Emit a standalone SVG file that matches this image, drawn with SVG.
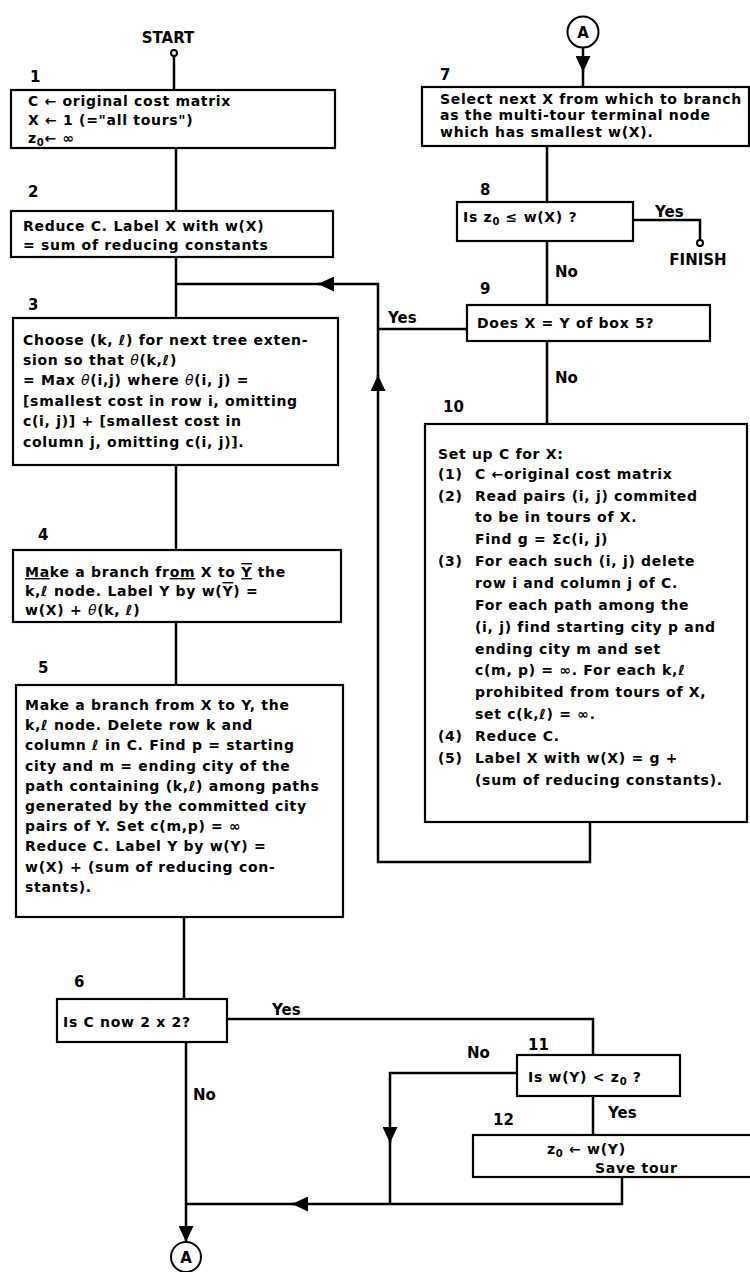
<svg xmlns="http://www.w3.org/2000/svg" width="750" height="1272" viewBox="0 0 750 1272">
<style>
.bg{fill:#fff}
.box{fill:#fff;stroke:#000;stroke-width:2.2}
.ln{fill:none;stroke:#000;stroke-width:2.5}
.dot{fill:#fff;stroke:#000;stroke-width:2}
.t{font-family:"DejaVu Sans","Liberation Sans",sans-serif;font-size:14px;font-weight:bold;letter-spacing:0.7px;fill:#000}
.n{font-family:"DejaVu Sans","Liberation Sans",sans-serif;font-size:15px;font-weight:bold;fill:#000}
.sub{font-size:10px}
.u{text-decoration:underline}
.o{text-decoration:overline}
.ou{text-decoration:underline overline}
.th{font-style:italic;font-weight:normal}
</style>
<defs>
<marker id="ah" viewBox="0 0 16 15" refX="16" refY="7.5" markerWidth="16" markerHeight="15" markerUnits="userSpaceOnUse" orient="auto">
<path d="M0,0 L16,7.5 L0,15 z" fill="#000"/>
</marker>
</defs>
<rect class="bg" x="0" y="0" width="750" height="1272"/>

<g id="connectors">
<line class="ln" x1="174" y1="56" x2="174" y2="90"/>
<line class="ln" x1="176" y1="148" x2="176" y2="211"/>
<line class="ln" x1="176" y1="257" x2="176" y2="318"/>
<line class="ln" x1="176" y1="465" x2="176" y2="550"/>
<line class="ln" x1="176" y1="622" x2="176" y2="685"/>
<line class="ln" x1="184" y1="917" x2="184" y2="999"/>
<path class="ln" d="M186,1042 L186,1242" marker-end="url(#ah)"/>
<path class="ln" d="M227,1019 L593,1019 L593,1055"/>
<path class="ln" d="M517,1073 L390,1073 L390,1143" marker-end="url(#ah)"/>
<line class="ln" x1="390" y1="1140" x2="390" y2="1204"/>
<path class="ln" d="M622,1177 L622,1204 L292,1204" marker-end="url(#ah)"/>
<line class="ln" x1="295" y1="1204" x2="186" y2="1204"/>
<line class="ln" x1="593" y1="1096" x2="593" y2="1135"/>
<path class="ln" d="M590,822 L590,862 L378,862 L378,375" marker-end="url(#ah)"/>
<path class="ln" d="M378,378 L378,284 L318,284" marker-end="url(#ah)"/>
<line class="ln" x1="321" y1="284" x2="176" y2="284"/>
<line class="ln" x1="467" y1="329" x2="378" y2="329"/>
<path class="ln" d="M583,47 L583,72" marker-end="url(#ah)"/>
<line class="ln" x1="583" y1="70" x2="583" y2="87"/>
<line class="ln" x1="547" y1="146" x2="547" y2="202"/>
<line class="ln" x1="547" y1="241" x2="547" y2="305"/>
<line class="ln" x1="547" y1="341" x2="547" y2="424"/>
<path class="ln" d="M633,220 L700,220 L700,240"/>
<text class="n" x="655" y="217">Yes</text>
<text class="n" x="555" y="277">No</text>
<text class="n" x="388" y="323">Yes</text>
<text class="n" x="555" y="383">No</text>
<text class="n" x="272" y="1015">Yes</text>
<text class="n" x="193" y="1100">No</text>
<text class="n" x="467" y="1058">No</text>
<text class="n" x="608" y="1118">Yes</text>
</g>

<g id="start">
<text class="n" x="168" y="43" text-anchor="middle">START</text>
<circle class="dot" cx="174" cy="53" r="3"/>
</g>

<g id="finish">
<circle class="dot" cx="700" cy="243" r="3"/>
<text class="n" x="698" y="265" text-anchor="middle">FINISH</text>
</g>

<g id="connector-a-top">
<circle class="dot" cx="583" cy="32" r="15.5"/>
<text class="n" x="583" y="37.5" text-anchor="middle">A</text>
</g>

<g id="connector-a-bottom">
<circle class="dot" cx="186" cy="1257" r="15"/>
<text class="n" x="186" y="1262.5" text-anchor="middle">A</text>
</g>

<g id="box1">
<text class="n" x="30" y="82">1</text>
<rect class="box" x="11" y="90" width="324" height="58"/>
<text class="t" x="28" y="106">C ← original cost matrix</text>
<text class="t" x="28" y="125">X ← 1 (="all tours")</text>
<text class="t" x="28" y="143">z<tspan class="sub" dy="3">0</tspan><tspan dy="-3">← ∞</tspan></text>
</g>

<g id="box2">
<text class="n" x="28" y="197">2</text>
<rect class="box" x="11" y="211" width="322" height="46"/>
<text class="t" x="23" y="231">Reduce C. Label X with w(X)</text>
<text class="t" x="23" y="250">= sum of reducing constants</text>
</g>

<g id="box3">
<text class="n" x="28" y="310">3</text>
<rect class="box" x="13" y="318" width="325" height="147"/>
<text class="t" x="23" y="345">Choose (k, ℓ) for next tree exten-</text>
<text class="t" x="23" y="365">sion so that <tspan class="th">θ</tspan>(k,ℓ)</text>
<text class="t" x="23" y="385">= Max <tspan class="th">θ</tspan>(i,j) where <tspan class="th">θ</tspan>(i, j) =</text>
<text class="t" x="23" y="406">[smallest cost in row i, omitting</text>
<text class="t" x="23" y="426">c(i, j)] + [smallest cost in</text>
<text class="t" x="23" y="447">column j, omitting c(i, j)].</text>
</g>

<g id="box4">
<text class="n" x="38" y="540">4</text>
<rect class="box" x="13" y="550" width="328" height="72"/>
<text class="t" x="25" y="577"><tspan class="u">Ma</tspan>ke a branch fr<tspan class="u">om</tspan> X to <tspan class="ou">Y</tspan> the</text>
<text class="t" x="25" y="596">k,ℓ node. Label Y by w(<tspan class="o">Y</tspan>) =</text>
<text class="t" x="25" y="615">w(X) + <tspan class="th">θ</tspan>(k, ℓ)</text>
</g>

<g id="box5">
<text class="n" x="38" y="673">5</text>
<rect class="box" x="16" y="685" width="327" height="232"/>
<text class="t" x="25" y="710">Make a branch from X to Y, the</text>
<text class="t" x="25" y="730">k,ℓ node. Delete row k and</text>
<text class="t" x="25" y="750">column ℓ in C. Find p = starting</text>
<text class="t" x="25" y="771">city and m = ending city of the</text>
<text class="t" x="25" y="791">path containing (k,ℓ) among paths</text>
<text class="t" x="25" y="811">generated by the committed city</text>
<text class="t" x="25" y="831">pairs of Y. Set c(m,p) = ∞</text>
<text class="t" x="25" y="851">Reduce C. Label Y by w(Y) =</text>
<text class="t" x="25" y="872">w(X) + (sum of reducing con-</text>
<text class="t" x="25" y="892">stants).</text>
</g>

<g id="box6">
<text class="n" x="74" y="987">6</text>
<rect class="box" x="57" y="999" width="170" height="43"/>
<text class="t" x="63" y="1027">Is C now 2 x 2?</text>
</g>

<g id="box7">
<text class="n" x="440" y="80">7</text>
<rect class="box" x="422" y="87" width="327" height="59"/>
<text class="t" x="440" y="104">Select next X from which to branch</text>
<text class="t" x="440" y="120">as the multi-tour terminal node</text>
<text class="t" x="440" y="137">which has smallest w(X).</text>
</g>

<g id="box8">
<text class="n" x="480" y="195">8</text>
<rect class="box" x="457" y="202" width="176" height="39"/>
<text class="t" x="463" y="222">Is z<tspan class="sub" dy="3">0</tspan><tspan dy="-3"> ≤ w(X) ?</tspan></text>
</g>

<g id="box9">
<text class="n" x="480" y="294">9</text>
<rect class="box" x="467" y="305" width="243" height="36"/>
<text class="t" x="477" y="328">Does X = Y of box 5?</text>
</g>

<g id="box10">
<text class="n" x="443" y="412">10</text>
<rect class="box" x="425" y="424" width="322" height="398"/>
<text class="t" x="438" y="459">Set up C for X:</text>
<text class="t" x="438" y="479">(1)</text>
<text class="t" x="475" y="479">C ←original cost matrix</text>
<text class="t" x="438" y="501">(2)</text>
<text class="t" x="475" y="501">Read pairs (i, j) commited</text>
<text class="t" x="475" y="522">to be in tours of X.</text>
<text class="t" x="475" y="544">Find g = Σc(i, j)</text>
<text class="t" x="438" y="566">(3)</text>
<text class="t" x="475" y="566">For each such (i, j) delete</text>
<text class="t" x="475" y="588">row i and column j of C.</text>
<text class="t" x="475" y="610">For each path among the</text>
<text class="t" x="475" y="632">(i, j) find starting city p and</text>
<text class="t" x="475" y="654">ending city m and set</text>
<text class="t" x="475" y="675">c(m, p) = ∞. For each k,ℓ</text>
<text class="t" x="475" y="697">prohibited from tours of X,</text>
<text class="t" x="475" y="719">set c(k,ℓ) = ∞.</text>
<text class="t" x="438" y="741">(4)</text>
<text class="t" x="475" y="741">Reduce C.</text>
<text class="t" x="438" y="763">(5)</text>
<text class="t" x="475" y="763">Label X with w(X) = g +</text>
<text class="t" x="475" y="785">(sum of reducing constants).</text>
</g>

<g id="box11">
<text class="n" x="528" y="1050">11</text>
<rect class="box" x="517" y="1055" width="163" height="41"/>
<text class="t" x="528" y="1082">Is w(Y) &lt; z<tspan class="sub" dy="3">0</tspan><tspan dy="-3"> ?</tspan></text>
</g>

<g id="box12">
<text class="n" x="493" y="1125">12</text>
<rect class="box" x="473" y="1135" width="300" height="42"/>
<text class="t" x="547" y="1154">z<tspan class="sub" dy="3">0</tspan><tspan dy="-3"> ← w(Y)</tspan></text>
<text class="t" x="595" y="1173">Save tour</text>
</g>
</svg>
